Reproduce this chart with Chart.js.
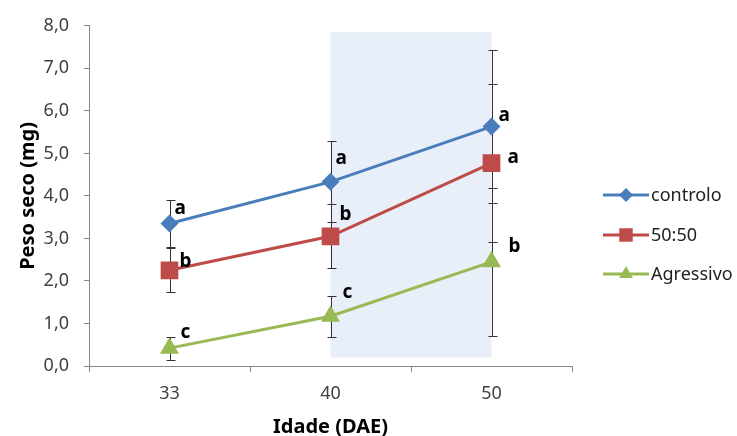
<!DOCTYPE html>
<html>
<head>
<meta charset="utf-8">
<script src="https://cdn.jsdelivr.net/npm/chart.js@4"></script>
<style>
	html, body { margin: 0; padding: 0; background: #fff; }
</style>
</head>
<body>
<canvas id="myChart" width="737" height="436"></canvas>
<script>
// data
const categories = ["33", "40", "50"];
const seriesNames = ["controlo", "50:50", "Agressivo"];
const controlo = [3.35, 4.33, 5.63];
const mix5050 = [2.25, 3.05, 4.77];
const agressivo = [0.42, 1.17, 2.45];
const controloErr = [0.55, 0.95, 1.80];
const mix5050Err = [0.52, 0.75, 1.86];
const agressivoErr = [0.27, 0.48, 1.74];
const controloLetters = ["a", "a", "a"];
const mix5050Letters = ["b", "b", "a"];
const agressivoLetters = ["c", "c", "b"];
const yTicks = [0, 1, 2, 3, 4, 5, 6, 7, 8];
const shadeFrom = "40";
const shadeTo = "50";
const shadeTop = 7.85;
const shadeBottom = 0.2;

const colors = ["#4A7EBB", "#BE4B48", "#98B954"];
const markers = ["rectRot", "rect", "triangle"];
const markerRadius = [9, 12.5, 11];
const legendRadius = [7, 9.5, 8];
// letter label offsets (px) from each point: [dx, dy to baseline]
const letterOffsets = [
	[[5, -10], [5, -18], [7, -6]],
	[[10, -3], [9, -16], [16, 0]],
	[[11, -10], [12, -18], [17, -10]]
];

const allErr = [controloErr, mix5050Err, agressivoErr];
const allLetters = [controloLetters, mix5050Letters, agressivoLetters];
const fontFam = "'Noto Sans', 'Open Sans', sans-serif";

const extras = {
	id: "extras",
	beforeDatasetsDraw(chart) {
		const ctx = chart.ctx;
		const x = chart.scales.x, y = chart.scales.y;
		// shaded band
		ctx.save();
		ctx.fillStyle = "#E9EFF9";
		const x1 = x.getPixelForValue(categories.indexOf(shadeFrom));
		const x2 = x.getPixelForValue(categories.indexOf(shadeTo));
		const y1 = y.getPixelForValue(shadeTop);
		const y2 = y.getPixelForValue(shadeBottom);
		ctx.fillRect(x1, y1, x2 - x1, y2 - y1);
		// error bars
		ctx.strokeStyle = "#333";
		ctx.lineWidth = 1;
		chart.data.datasets.forEach((ds, i) => {
			ds.data.forEach((v, j) => {
				const px = Math.round(x.getPixelForValue(j)) + 0.5;
				const top = Math.round(y.getPixelForValue(v + allErr[i][j])) + 0.5;
				const bot = Math.round(y.getPixelForValue(v - allErr[i][j])) + 0.5;
				ctx.beginPath();
				ctx.moveTo(px, top); ctx.lineTo(px, bot);
				ctx.moveTo(px - 4, top); ctx.lineTo(px + 5, top);
				ctx.moveTo(px - 4, bot); ctx.lineTo(px + 5, bot);
				ctx.stroke();
			});
		});
		ctx.restore();
	},
	afterDraw(chart) {
		const ctx = chart.ctx;
		const x = chart.scales.x, y = chart.scales.y;
		ctx.save();
		// significance letters
		ctx.fillStyle = "#000";
		ctx.font = "bold 19px " + fontFam;
		ctx.textAlign = "left";
		ctx.textBaseline = "alphabetic";
		chart.data.datasets.forEach((ds, i) => {
			ds.data.forEach((v, j) => {
				const px = x.getPixelForValue(j) + letterOffsets[i][j][0];
				const py = y.getPixelForValue(v) + letterOffsets[i][j][1];
				ctx.fillText(allLetters[i][j], px, py);
			});
		});
		// legend
		const lx = 603, lw = 46, ly = [195, 235, 274];
		ctx.font = "18px " + fontFam;
		ctx.textBaseline = "middle";
		seriesNames.forEach((name, i) => {
			ctx.strokeStyle = colors[i];
			ctx.lineWidth = 3;
			ctx.beginPath();
			ctx.moveTo(lx, ly[i]); ctx.lineTo(lx + lw, ly[i]);
			ctx.stroke();
			ctx.fillStyle = colors[i];
			Chart.helpers.drawPoint(ctx, {
				pointStyle: markers[i], radius: legendRadius[i], rotation: 0, borderWidth: 0
			}, lx + lw / 2, ly[i]);
			ctx.fillStyle = "#222";
			ctx.fillText(name, lx + lw + 2, ly[i] + 1);
		});
		ctx.restore();
	}
};

const datasets = [controlo, mix5050, agressivo].map((d, i) => ({
	label: seriesNames[i],
	data: d,
	borderColor: colors[i],
	backgroundColor: colors[i],
	borderWidth: 3,
	pointStyle: markers[i],
	pointRadius: markerRadius[i],
	pointBorderWidth: 0,
	pointBackgroundColor: colors[i],
	tension: 0
}));

const myChart = new Chart(document.getElementById("myChart"), {
	type: "line",
	data: { labels: categories, datasets: datasets },
	plugins: [extras],
	options: {
		responsive: false,
		animation: false,
		devicePixelRatio: 1,
		layout: { padding: { left: 12, right: 165, top: 25, bottom: 0 } },
		plugins: { legend: { display: false }, tooltip: { enabled: false } },
		scales: {
			x: {
				offset: true,
				grid: { display: true, drawOnChartArea: false, offset: true, tickLength: 6, color: "#868686" },
				border: { color: "#868686" },
				ticks: { color: "#404040", font: { family: fontFam, size: 18 }, padding: 11 },
				title: { display: true, text: "Idade (DAE)", color: "#000",
					font: { family: fontFam, size: 20, weight: "bold" }, padding: { top: 0, bottom: -3 } },
				afterFit: s => { s.height = 70; }
			},
			y: {
				min: 0, max: 8,
				afterBuildTicks: s => { s.ticks = yTicks.map(v => ({ value: v })); },
				grid: { display: true, drawOnChartArea: false, tickLength: 5, color: "#868686" },
				border: { color: "#868686" },
				ticks: { color: "#404040", font: { family: fontFam, size: 18 }, padding: 15,
					callback: v => v.toFixed(1).replace(".", ",") },
				title: { display: true, text: "Peso seco (mg)", color: "#000",
					font: { family: fontFam, size: 20, weight: "bold" }, padding: { top: 4, bottom: 4 } },
				afterFit: s => { s.width = 77; }
			}
		}
	}
});
</script>
</body>
</html>
